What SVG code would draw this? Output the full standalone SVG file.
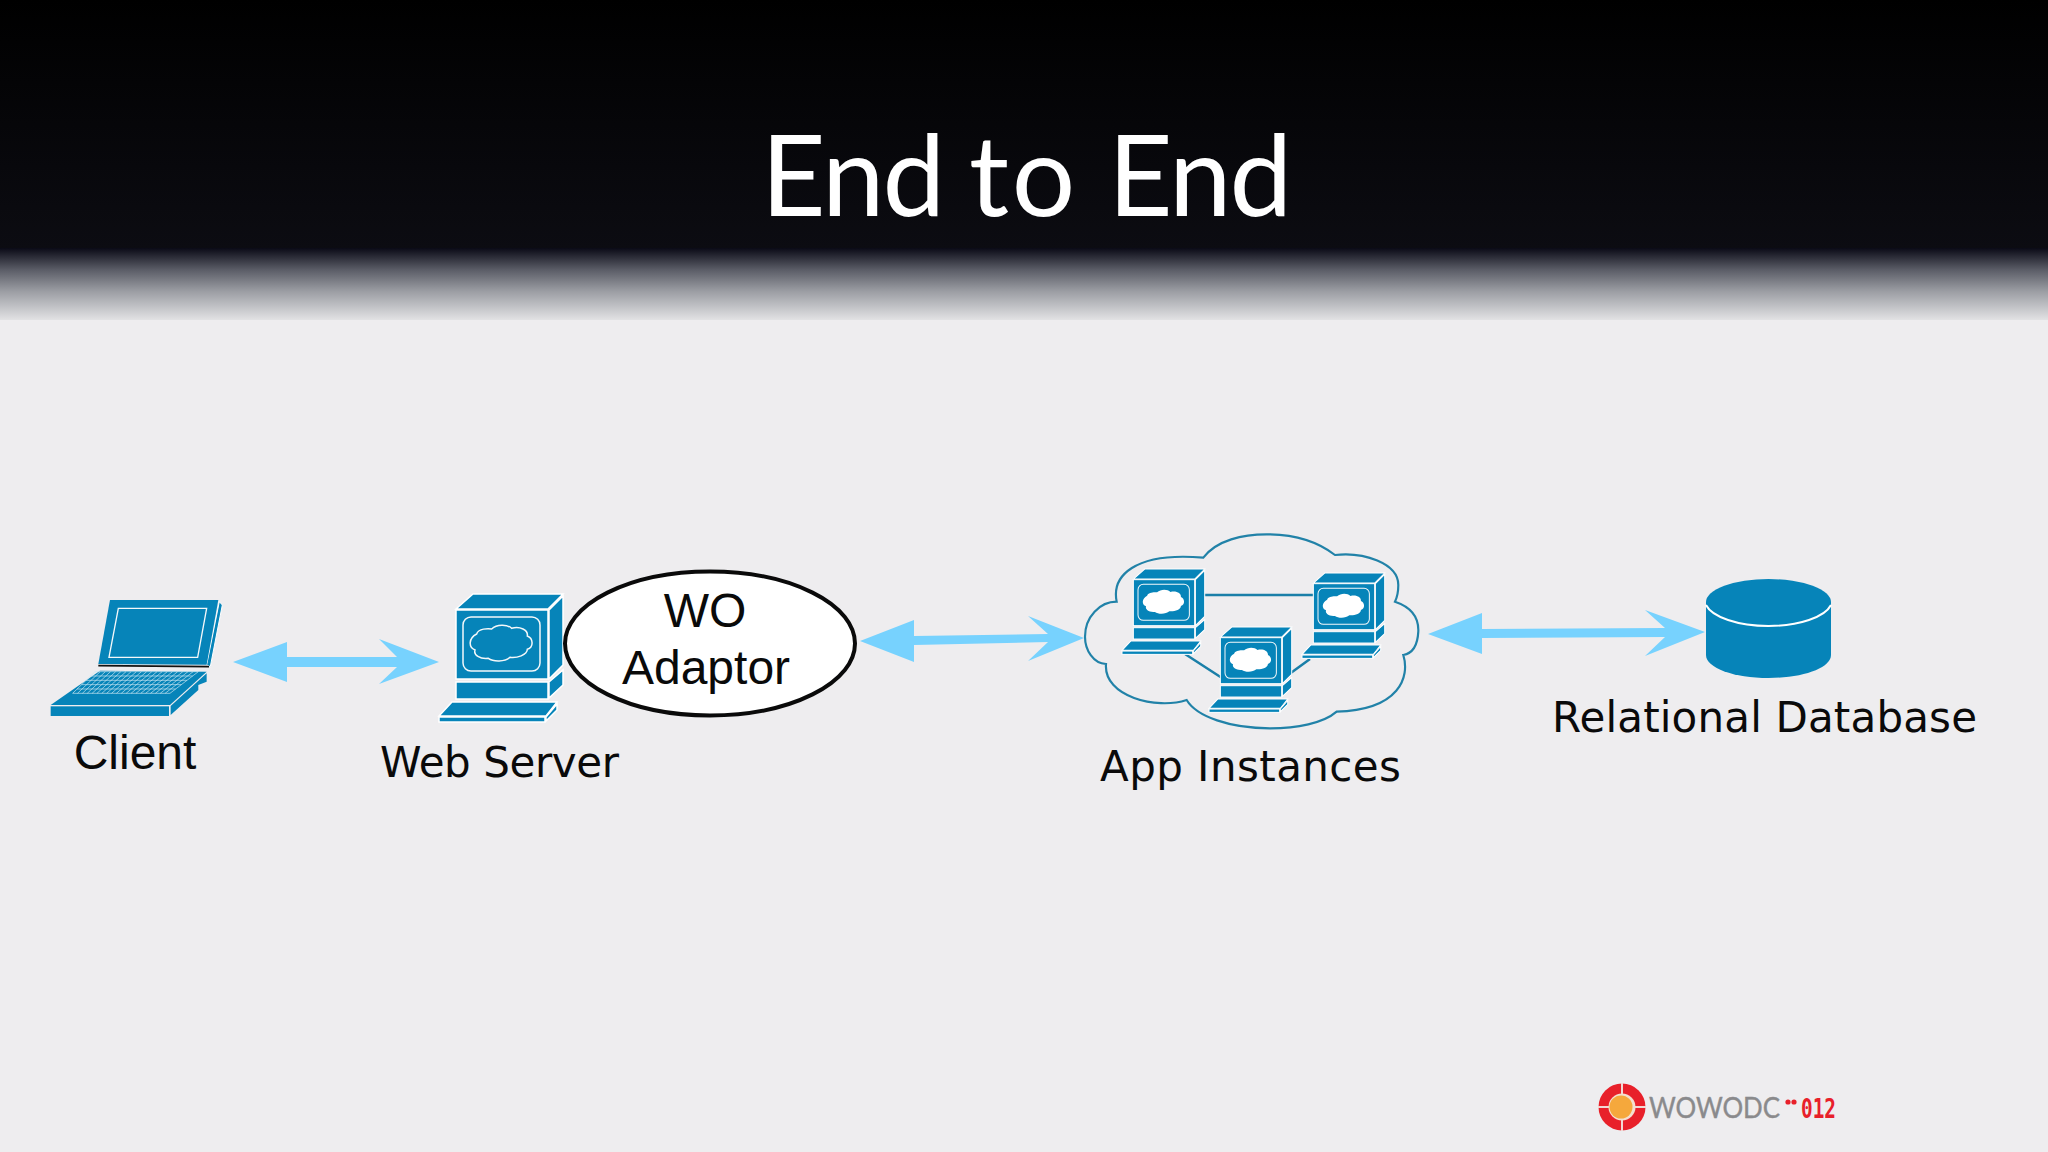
<svg xmlns="http://www.w3.org/2000/svg" xmlns:xlink="http://www.w3.org/1999/xlink" width="2048" height="1152" viewBox="0 0 2048 1152">
<style>
.blue{fill:#0684b9}
.edge{stroke:#fff;stroke-width:1.5}
.hair{fill:none;stroke:#f4f8fa}
.arrow{fill:#77d2fe}
.link{fill:none;stroke:#1a7fa8;stroke-width:2.5}
.label{font-family:"DejaVu Sans",sans-serif;font-size:42px;fill:#0a0a0a}
.helv{font-family:"Liberation Sans",Arial,sans-serif;font-size:48px;fill:#0a0a0a;text-anchor:middle}
</style>
<defs>
<linearGradient id="head" x1="0" y1="0" x2="0" y2="1"><stop offset="0" stop-color="#000"/><stop offset="1" stop-color="#0c0c12"/></linearGradient>
<linearGradient id="fade" x1="0" y1="0" x2="0" y2="1"><stop offset="0" stop-color="#0a0a16"/><stop offset=".3" stop-color="#5a5c66"/><stop offset=".6" stop-color="#9b9da3"/><stop offset="1" stop-color="#e2e2e4"/></linearGradient>
<g id="computer">
<polygon class="blue edge" points="17,15 34,0 124,0 109,15"/>
<rect class="blue edge" x="17" y="16" width="92" height="69"/>
<polygon class="blue edge" points="110,16 124,2 124,71 110,85"/>
<rect x="24" y="23" width="77" height="54" rx="8" class="hair" stroke-width="1.5"/>
<rect class="blue edge" x="17" y="88" width="92" height="17"/>
<polygon class="blue edge" points="110,88 124,76 124,91 110,104"/>
<polygon class="blue edge" points="13,108 118,108 107,122 0,122"/>
<rect class="blue edge" x="0" y="123" width="106" height="5"/>
<polygon class="blue edge" points="107,123 118,110 118,116 107,127"/>
</g>
<g id="instance">
<use href="#computer" xlink:href="#computer"/>
<path d="M170,222C175,205 205,205 215,207C230,192 262,192 275,205C300,198 325,210 322,228C340,235 342,262 322,268C322,285 290,295 270,292C255,306 220,306 205,295C180,298 160,285 165,270C145,262 145,235 170,222Z" transform="translate(-19,-34) scale(.3333)" fill="#fff"/>
</g>
</defs>

<rect width="2048" height="1152" fill="#eeedef"/>
<rect width="2048" height="249" fill="url(#head)"/>
<rect y="248" width="2048" height="72" fill="url(#fade)"/>
<text y="216" style="font-family:Lato,sans-serif;font-size:112px;fill:#fff"><tspan x="761" letter-spacing="-2">End</tspan><tspan x="969" letter-spacing="3">to</tspan><tspan x="1108" letter-spacing="-2">End</tspan></text>

<g id="connectors">
<polygon class="arrow" points="233,662 287,642 287,657 397,657 379,639 439,662 379,684 397,667 287,667 287,682"/>
<polygon class="arrow" points="860,641 914,620 914,636 1048,634 1028,616 1084,638 1028,661 1048,642 914,645 914,662"/>
<polygon class="arrow" points="1428,634 1482,613 1482,629 1665,628 1645,610 1705,632 1645,656 1665,637 1482,638 1482,654"/>
<path class="link" d="M1204,595H1314M1185,654L1222,678M1310,659L1288,675"/>
</g>

<g id="client">
<g transform="translate(30,570) scale(.3333)">
<polygon points="568,95 577,105 541,290 530,285" class="blue" stroke="#fff" stroke-width="3"/>
<polygon points="240,90 565,90 530,284 205,282" class="blue"/>
<polygon points="265,115 530,115 503,262 237,262" fill="none" stroke="#f4f8fa" stroke-width="4"/>
<path d="M205,287L537,290" stroke="#111" stroke-width="5" fill="none"/>
<polygon points="210,302 530,305 420,405 62,405" class="blue"/>
<rect x="62" y="409" width="355" height="29" class="blue"/>
<polygon points="422,408 530,310 530,335 505,345 505,360 422,435" class="blue"/>
<path d="M195,305H505M181.6,318H488M168,331H471M155,344H454M141,357H437M128,370H420M195,305L128,370M210.5,305L142.6,370M226,305L157.2,370M241.5,305L171.8,370M257,305L186.4,370M272.5,305L201,370M288,305L215.6,370M303.5,305L230.2,370M319,305L244.8,370M334.5,305L259.4,370M350,305L274,370M365.5,305L288.6,370M381,305L303.2,370M396.5,305L317.8,370M412,305L332.4,370M427.5,305L347,370M443,305L361.6,370M458.5,305L376.2,370M474,305L390.8,370M489.5,305L405.4,370M505,305L420,370" fill="none" stroke="#cfe9f3" stroke-width="2"/>
</g>
<text class="helv" x="135" y="769">Client</text>
</g>

<g id="web-server">
<use href="#computer" xlink:href="#computer" transform="translate(439,594)"/>
<path d="M170,222C175,205 205,205 215,207C230,192 262,192 275,205C300,198 325,210 322,228C340,235 342,262 322,268C322,285 290,295 270,292C255,306 220,306 205,295C180,298 160,285 165,270C145,262 145,235 170,222Z" transform="translate(420,560) scale(.3333)" class="hair" stroke-width="4.5"/>
<text class="label" x="380" y="777" textLength="239" lengthAdjust="spacing">Web Server</text>
</g>

<g id="wo-adaptor">
<ellipse cx="710" cy="643.500" rx="145" ry="72" fill="#fff" stroke="#0a0a0a" stroke-width="4"/>
<text class="helv" x="705" y="627">WO</text>
<text class="helv" x="706" y="684">Adaptor</text>
</g>

<g id="app-instances">
<path d="M400,113C440,60 520,43 590,43C680,43 750,70 795,105C880,95 985,130 985,195C985,215 980,235 975,245C1020,260 1047,290 1045,335C1043,375 1030,400 1000,405C1020,470 990,570 800,575C760,610 680,625 600,625C480,625 380,590 350,540C260,570 100,530 108,432C70,430 45,390 45,350C45,290 90,245 140,245C125,170 190,95 400,113Z" transform="translate(1070,520) scale(.3333)" fill="none" stroke="#2182a8" stroke-width="6.500"/>
<use href="#instance" xlink:href="#instance" transform="translate(1122,569) scale(.667)"/>
<use href="#instance" xlink:href="#instance" transform="translate(1302,573) scale(.667)"/>
<use href="#instance" xlink:href="#instance" transform="translate(1209,627) scale(.667)"/>
<text class="label" x="1100" y="781" textLength="301" lengthAdjust="spacing">App Instances</text>
</g>

<g id="database">
<path class="blue" d="M1706,602V655C1706,668 1734,678 1768.500,678C1803,678 1831,668 1831,655V602Z"/>
<ellipse class="blue" cx="1768.500" cy="602" rx="62.500" ry="23"/>
<path d="M1706,605C1712,617 1738,626 1768.500,626C1799,626 1825,617 1831,605" fill="none" stroke="#fff" stroke-width="2"/>
<text class="label" x="1552" y="732" textLength="425" lengthAdjust="spacing">Relational Database</text>
</g>

<g id="logo">
<circle cx="1622" cy="1107" r="23.500" fill="#e8202a"/>
<path d="M1622,1083V1131M1598,1107H1646" stroke="#f1d9d5" stroke-width="2"/>
<circle cx="1622" cy="1107" r="13.500" fill="#f4dfcf"/>
<circle cx="1621" cy="1107" r="11.500" fill="#f5a83c"/>
<text x="1649" y="1118" textLength="131" lengthAdjust="spacingAndGlyphs" style="font-family:Lato,sans-serif;font-size:28px;fill:#8a8a8c;stroke:#8a8a8c;stroke-width:.4">WOWODC</text>
<circle cx="1788" cy="1102" r="2.600" fill="#e8202a"/>
<circle cx="1794" cy="1102" r="2.600" fill="#e8202a"/>
<text x="1801" y="1118" textLength="35" lengthAdjust="spacingAndGlyphs" style="font-family:'DejaVu Sans Mono',monospace;font-weight:700;font-size:26px;fill:#e8202a">012</text>
</g>
</svg>
